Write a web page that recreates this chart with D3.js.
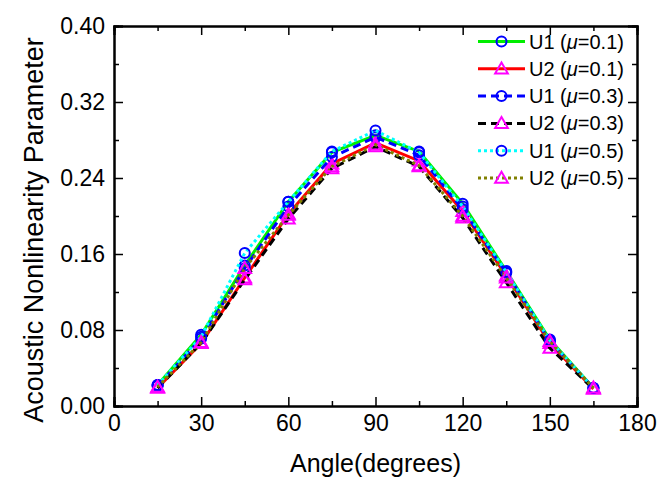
<!DOCTYPE html>
<html>
<head>
<meta charset="utf-8">
<script src="https://cdn.jsdelivr.net/npm/d3@7"></script>
<style>
  body { margin: 0; background: #fff; }
  svg { font-family: "Liberation Sans", Arial, sans-serif; }
</style>
</head>
<body>
<svg id="chart" width="659" height="480"></svg>
<script>
// Angles (degrees)
const angles = [15, 30, 45, 60, 75, 90, 105, 120, 135, 150, 165];

// Acoustic nonlinearity parameter
const u1Mu01 = [0.022, 0.075, 0.148, 0.215, 0.267, 0.285, 0.268, 0.213, 0.142, 0.070, 0.019];
const u2Mu01 = [0.019, 0.066, 0.135, 0.202, 0.255, 0.277, 0.258, 0.205, 0.137, 0.066, 0.018];
const u1Mu03 = [0.021, 0.071, 0.145, 0.210, 0.262, 0.283, 0.264, 0.207, 0.140, 0.068, 0.019];
const u2Mu03 = [0.019, 0.066, 0.133, 0.197, 0.250, 0.273, 0.252, 0.198, 0.130, 0.061, 0.018];
const u1Mu05 = [0.022, 0.073, 0.161, 0.215, 0.268, 0.290, 0.267, 0.210, 0.141, 0.069, 0.019];
const u2Mu05 = [0.020, 0.067, 0.145, 0.201, 0.252, 0.275, 0.253, 0.200, 0.135, 0.068, 0.019];

const seriesNames = ["U1", "U2", "U1", "U2", "U1", "U2"];
const seriesMu = ["0.1", "0.1", "0.3", "0.3", "0.5", "0.5"];

const xTicks = [0, 30, 60, 90, 120, 150, 180];
const yTicks = [0.00, 0.08, 0.16, 0.24, 0.32, 0.40];

const series = [
  {name: seriesNames[0], mu: seriesMu[0], values: u1Mu01, color: "#00ee00", dash: null, marker: "circle"},
  {name: seriesNames[1], mu: seriesMu[1], values: u2Mu01, color: "#ff0000", dash: null, marker: "triangle"},
  {name: seriesNames[2], mu: seriesMu[2], values: u1Mu03, color: "#0000ff", dash: "8 5", marker: "circle"},
  {name: seriesNames[3], mu: seriesMu[3], values: u2Mu03, color: "#000000", dash: "8 5", marker: "triangle"},
  {name: seriesNames[4], mu: seriesMu[4], values: u1Mu05, color: "#00ffff", dash: "3 3", marker: "circle"},
  {name: seriesNames[5], mu: seriesMu[5], values: u2Mu05, color: "#808000", dash: "3 3", marker: "triangle"}
];

const svg = d3.select("#chart");

// Plot frame
const plotLeft = 114, plotRight = 637, plotTop = 26, plotBottom = 406;

const x = d3.scaleLinear().domain([0, 180]).range([plotLeft, plotRight]);
const y = d3.scaleLinear().domain([0, 0.40]).range([plotBottom, plotTop]);

const minorX = d3.range(15, 180, 30);
const minorY = d3.range(0.04, 0.40, 0.08);

// Bottom axis: labels outside, ticks inward
svg.append("g").attr("transform", `translate(0,${plotBottom})`)
  .call(d3.axisBottom(x).tickValues(xTicks).tickSize(-9).tickPadding(9).tickFormat(d3.format("d")));
svg.append("g").attr("transform", `translate(0,${plotBottom})`)
  .call(d3.axisBottom(x).tickValues(minorX).tickSize(-5).tickFormat(""));

// Left axis
svg.append("g").attr("transform", `translate(${plotLeft},0)`)
  .call(d3.axisLeft(y).tickValues(yTicks).tickSize(-9).tickPadding(9).tickFormat(d3.format(".2f")));
svg.append("g").attr("transform", `translate(${plotLeft},0)`)
  .call(d3.axisLeft(y).tickValues(minorY).tickSize(-5).tickFormat(""));

// Top and right axes, no labels
svg.append("g").attr("transform", `translate(0,${plotTop})`)
  .call(d3.axisTop(x).tickValues(xTicks).tickSize(-9).tickFormat(""));
svg.append("g").attr("transform", `translate(0,${plotTop})`)
  .call(d3.axisTop(x).tickValues(minorX).tickSize(-5).tickFormat(""));
svg.append("g").attr("transform", `translate(${plotRight},0)`)
  .call(d3.axisRight(y).tickValues(yTicks).tickSize(-9).tickFormat(""));
svg.append("g").attr("transform", `translate(${plotRight},0)`)
  .call(d3.axisRight(y).tickValues(minorY).tickSize(-5).tickFormat(""));

svg.selectAll(".domain").attr("stroke", "#000").attr("stroke-width", 2);
svg.selectAll(".tick line").attr("stroke", "#000").attr("stroke-width", 1.5);
svg.selectAll(".tick text").attr("font-size", 23).attr("fill", "#000")
  .attr("font-family", "Liberation Sans, Arial, sans-serif");

// Axis titles
svg.append("text")
  .attr("x", (plotLeft + plotRight) / 2)
  .attr("y", 472)
  .attr("text-anchor", "middle")
  .attr("font-size", 25)
  .text("Angle(degrees)");

svg.append("text")
  .attr("transform", `translate(43,230) rotate(-90)`)
  .attr("text-anchor", "middle")
  .attr("font-size", 27)
  .text("Acoustic Nonlinearity Parameter");

// Lines
const line = d3.line()
  .x((d, i) => x(angles[i]))
  .y(d => y(d));

const circleColor = "#0000ff", triColor = "#ff00ff";
const triangle = d3.symbol().type(d3.symbolTriangle).size(70);

function drawMarker(g, marker, cx, cy) {
  if (marker === "circle") {
    g.append("circle")
      .attr("cx", cx).attr("cy", cy).attr("r", 5)
      .attr("fill", "none").attr("stroke", circleColor).attr("stroke-width", 2);
  } else {
    g.append("path")
      .attr("d", triangle())
      .attr("transform", `translate(${cx},${cy + 1})`)
      .attr("fill", "none").attr("stroke", triColor).attr("stroke-width", 2);
  }
}

series.forEach(s => {
  const g = svg.append("g");
  const path = g.append("path")
    .datum(s.values)
    .attr("d", line)
    .attr("fill", "none")
    .attr("stroke", s.color)
    .attr("stroke-width", 3);
  if (s.dash) path.attr("stroke-dasharray", s.dash);

  s.values.forEach((v, i) => drawMarker(g, s.marker, x(angles[i]), y(v)));
});

// Legend
const legend = svg.append("g");
const legendX0 = 478, legendX1 = 525, legendTop = 41.5, legendStep = 27.3;

series.forEach((s, i) => {
  const ly = legendTop + i * legendStep;
  const row = legend.append("g");
  const l = row.append("line")
    .attr("x1", legendX0).attr("x2", legendX1)
    .attr("y1", ly).attr("y2", ly)
    .attr("stroke", s.color).attr("stroke-width", 3);
  if (s.dash) l.attr("stroke-dasharray", s.dash);
  drawMarker(row, s.marker, (legendX0 + legendX1) / 2, ly);

  const t = row.append("text")
    .attr("x", 529).attr("y", ly + 7)
    .attr("font-size", 20);
  t.append("tspan").text(`${s.name} (`);
  t.append("tspan").attr("font-style", "italic").text("\u03bc");
  t.append("tspan").text(`=${s.mu})`);
});
</script>
</body>
</html>
